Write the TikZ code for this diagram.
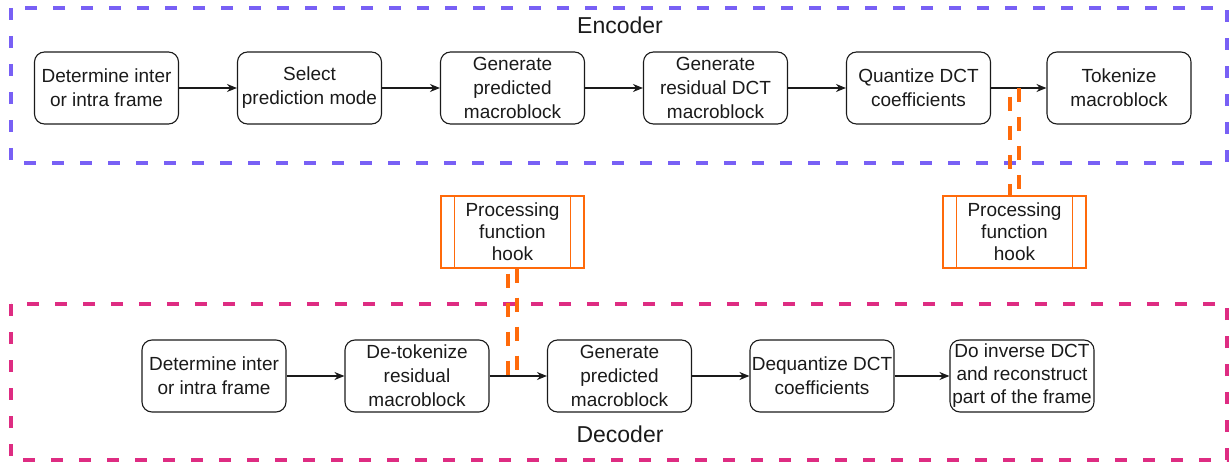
\documentclass[tikz,border=0pt]{standalone}
\usepackage{fontspec}
\setmainfont{Liberation Sans}
\usetikzlibrary{arrows.meta}

\definecolor{encpurple}{RGB}{120,96,245}
\definecolor{decpink}{RGB}{222,44,130}
\definecolor{hookorange}{RGB}{255,106,10}
\definecolor{ink}{RGB}{26,26,26}

\tikzset{
  stepbox/.style={draw=ink, line width=1.1pt, rounded corners=10pt,
    minimum width=144pt, minimum height=72pt, inner sep=0pt, align=center,
    font=\fontsize{19}{24}\selectfont, text=ink},
  hookbox/.style={draw=hookorange, line width=1.1pt, minimum width=143pt,
    minimum height=72pt, inner sep=0pt, align=center,
    font=\fontsize{19}{22}\selectfont, text=ink},
  flow/.style={draw=ink, line width=1.1pt, -{Stealth[length=10pt,width=8pt]}},
  stage/.style={line width=4pt, dash pattern=on 12pt off 16pt},
  hooklink/.style={draw=hookorange, line width=3.6pt},
  title/.style={font=\fontsize{23}{27}\selectfont, text=ink},
}

\begin{document}
\begin{tikzpicture}[x=1pt, y=-1pt]
\useasboundingbox (0,0) rectangle (1230,462);

% stage frames
\draw[stage, encpurple] (11,8) rectangle (1227,163);
\draw[stage, decpink] (11,304) rectangle (1227,460);
\node[title] (enc) at (620,25) {Encoder};
\node[title] (dec) at (620,434) {Decoder};

% encoder pipeline
\node[stepbox] (e1) at (106.5,88) {Determine inter\\or intra frame};
\node[stepbox] (e2) at (309.5,88) {Select\\prediction mode};
\node[stepbox] (e3) at (512.5,88) {Generate\\predicted\\macroblock};
\node[stepbox] (e4) at (715.5,88) {Generate\\residual DCT\\macroblock};
\node[stepbox] (e5) at (918.5,88) {Quantize DCT\\coefficients};
\node[stepbox] (e6) at (1119,88) {Tokenize\\macroblock};

% decoder pipeline
\node[stepbox] (d1) at (214,376) {Determine inter\\or intra frame};
\node[stepbox] (d2) at (417,376) {De-tokenize\\residual\\macroblock};
\node[stepbox] (d3) at (619.5,376) {Generate\\predicted\\macroblock};
\node[stepbox] (d4) at (822,376) {Dequantize DCT\\coefficients};
\node[stepbox, font=\fontsize{19}{23}\selectfont] (d5) at (1022,376) {Do inverse DCT\\and reconstruct\\part of the frame};

% processing hooks
\node[hookbox] (h1) at (512.5,232) {Processing\\function\\hook};
\node[hookbox] (h2) at (1014.5,232) {Processing\\function\\hook};
\foreach \h in {h1,h2}{
  \draw[hookorange, line width=1.1pt] ([xshift=14pt]\h.north west) -- ([xshift=14pt]\h.south west);
  \draw[hookorange, line width=1.1pt] ([xshift=-14pt]\h.north east) -- ([xshift=-14pt]\h.south east);
}

% flow arrows
\foreach \a/\b in {e1/e2,e2/e3,e3/e4,e4/e5,e5/e6,d1/d2,d2/d3,d3/d4,d4/d5}
  \draw[flow] (\a) -- (\b);

% hook links (double dashed)
\coordinate (t2) at (h2.north |- e5.east);
\draw[hooklink, dash pattern=on 14pt off 15pt]
  ([xshift=4.5pt]t2) -- ([xshift=4.5pt]h2.north);
\draw[hooklink, dash pattern=on 14pt off 15pt, dash phase=20pt]
  ([xshift=-4.5pt]t2) -- ([xshift=-4.5pt]h2.north);

\coordinate (t1) at (h1.south |- d2.east);
\draw[hooklink, dash pattern=on 14pt off 15pt]
  ([xshift=4.5pt]h1.south) -- ([xshift=4.5pt]t1);
\draw[hooklink, dash pattern=on 14pt off 15pt, dash phase=24pt]
  ([xshift=-4.5pt]h1.south) -- ([xshift=-4.5pt]t1);
\end{tikzpicture}
\end{document}
